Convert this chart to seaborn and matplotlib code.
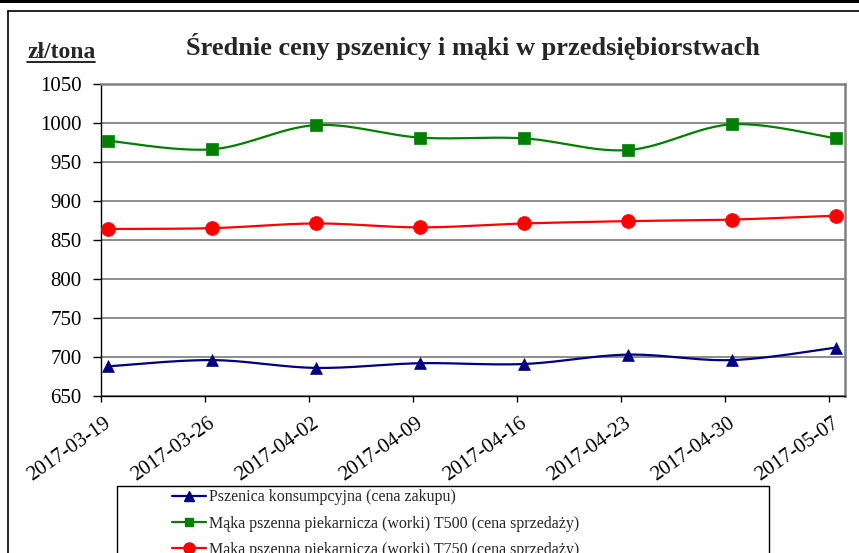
import numpy as np
import pandas as pd
import matplotlib.pyplot as plt
import seaborn as sns
from matplotlib.lines import Line2D
from matplotlib.patches import Rectangle
import matplotlib.transforms as mtransforms

# data
dates = ['2017-03-19', '2017-03-26', '2017-04-02', '2017-04-09',
         '2017-04-16', '2017-04-23', '2017-04-30', '2017-05-07']
pszenica = [688, 696, 686, 692, 691, 703, 696, 712]
maka_t500 = [977, 966, 997, 981, 980, 965, 998, 980]
maka_t750 = [864, 865, 871, 866, 871, 874, 876, 881]

series = [
    ('Pszenica konsumpcyjna (cena zakupu)', pszenica, '#000080', '^', 8.5),
    ('Mąka pszenna piekarnicza (worki) T500 (cena sprzedaży)', maka_t500, '#008000', 's', 8),
    ('Mąka pszenna piekarnicza (worki) T750 (cena sprzedaży)', maka_t750, '#ff0000', 'o', 10),
]

sns.set_theme(style='white')
plt.rcParams['font.family'] = ['Liberation Serif', 'DejaVu Serif']


def smooth(xs, ys, n=30):
    # catmull-rom style bezier, like excel's smoothed line
    p = np.column_stack([xs, ys]).astype(float)
    p = np.vstack([p[0], p, p[-1]])
    out = []
    t = np.linspace(0, 1, n)[:, None]
    for i in range(1, len(p) - 2):
        p0, p1, p2, p3 = p[i - 1], p[i], p[i + 1], p[i + 2]
        c1 = p1 + (p2 - p0) / 6
        c2 = p2 - (p3 - p1) / 6
        seg = (1 - t) ** 3 * p1 + 3 * (1 - t) ** 2 * t * c1 + 3 * (1 - t) * t ** 2 * c2 + t ** 3 * p2
        out.append(seg)
    out = np.vstack(out)
    return out[:, 0], out[:, 1]


fig = plt.figure(figsize=(8.59, 5.53), dpi=100)
ax = fig.add_axes([0.1172, 0.2839, 0.8665, 0.5647])

x = np.arange(len(dates))
handles = []
for name, vals, color, marker, ms in series:
    sx, sy = smooth(x, vals)
    curve = pd.DataFrame({'x': sx, 'y': sy})
    sns.lineplot(data=curve, x='x', y='y', sort=False, estimator=None,
                 color=color, linewidth=1.6, ax=ax)
    pts = pd.DataFrame({'x': x, 'y': vals})
    sns.scatterplot(data=pts, x='x', y='y', marker=marker, s=ms ** 2,
                    color=color, edgecolor=color, linewidth=0.5, zorder=5, ax=ax)
    handles.append(Line2D([], [], color=color, lw=1.6, marker=marker,
                          markersize=ms * 0.8, label=name))

ax.set_ylim(650, 1050)
ax.set_yticks(range(650, 1051, 50))
ax.set_xlim(-0.07, 7.087)
ax.set_xticks(x - 0.07)
ax.set_xticklabels(dates, rotation=35, ha='right', va='top', rotation_mode='anchor')
ax.set_xlabel('')
ax.set_ylabel('')
ax.grid(axis='y', color='#6e6e6e', linewidth=1.1)
ax.tick_params(axis='both', labelsize=15, direction='out', width=1,
               left=True, bottom=True, colors='black')
ax.tick_params(axis='y', length=5.8, pad=7.9)
ax.tick_params(axis='x', length=4, pad=4.5)
offset = mtransforms.ScaledTranslation(3 / 100, -6 / 100, fig.dpi_scale_trans)
for lab in ax.get_xticklabels():
    lab.set_transform(lab.get_transform() + offset)

for side in ['left', 'bottom']:
    ax.spines[side].set_color('black')
    ax.spines[side].set_linewidth(1.0)
for side in ['top', 'right']:
    ax.spines[side].set_color('#808080')
    ax.spines[side].set_linewidth(1.8)

fig.text(473 / 859, 1 - 47 / 553, 'Średnie ceny pszenicy i mąki w przedsiębiorstwach',
         ha='center', va='center', fontsize=19, fontweight='bold')
fig.text(27 / 859, 1 - 58 / 553, 'zł/tona', ha='left', va='baseline',
         fontsize=17, fontweight='bold')
fig.add_artist(Line2D([27 / 859, 95 / 859], [1 - 62 / 553, 1 - 62 / 553],
                      color='black', lw=1.2))

# outer frame pieces
fig.add_artist(Rectangle((0, 1 - 3 / 553), 1, 3 / 553, color='black', lw=0))
fig.add_artist(Line2D([8 / 859, 1], [1 - 10.5 / 553, 1 - 10.5 / 553], color='black', lw=1.2))
fig.add_artist(Line2D([8 / 859, 8 / 859], [0, 1 - 10.5 / 553], color='black', lw=1.2))

# legend box
fig.add_artist(Rectangle((117 / 859, -0.1), (769 - 117) / 859, 1 - 486 / 553 + 0.1,
                         fill=False, edgecolor='black', lw=1.0))
fig.legend(handles=handles, loc='upper left', bbox_to_anchor=(161 / 859, 1 - 478 / 553),
           frameon=False, fontsize=11.5, handlelength=2.1, handletextpad=0.2,
           labelspacing=0.65, borderpad=0.2)

fig.savefig('out.png', dpi=100)
